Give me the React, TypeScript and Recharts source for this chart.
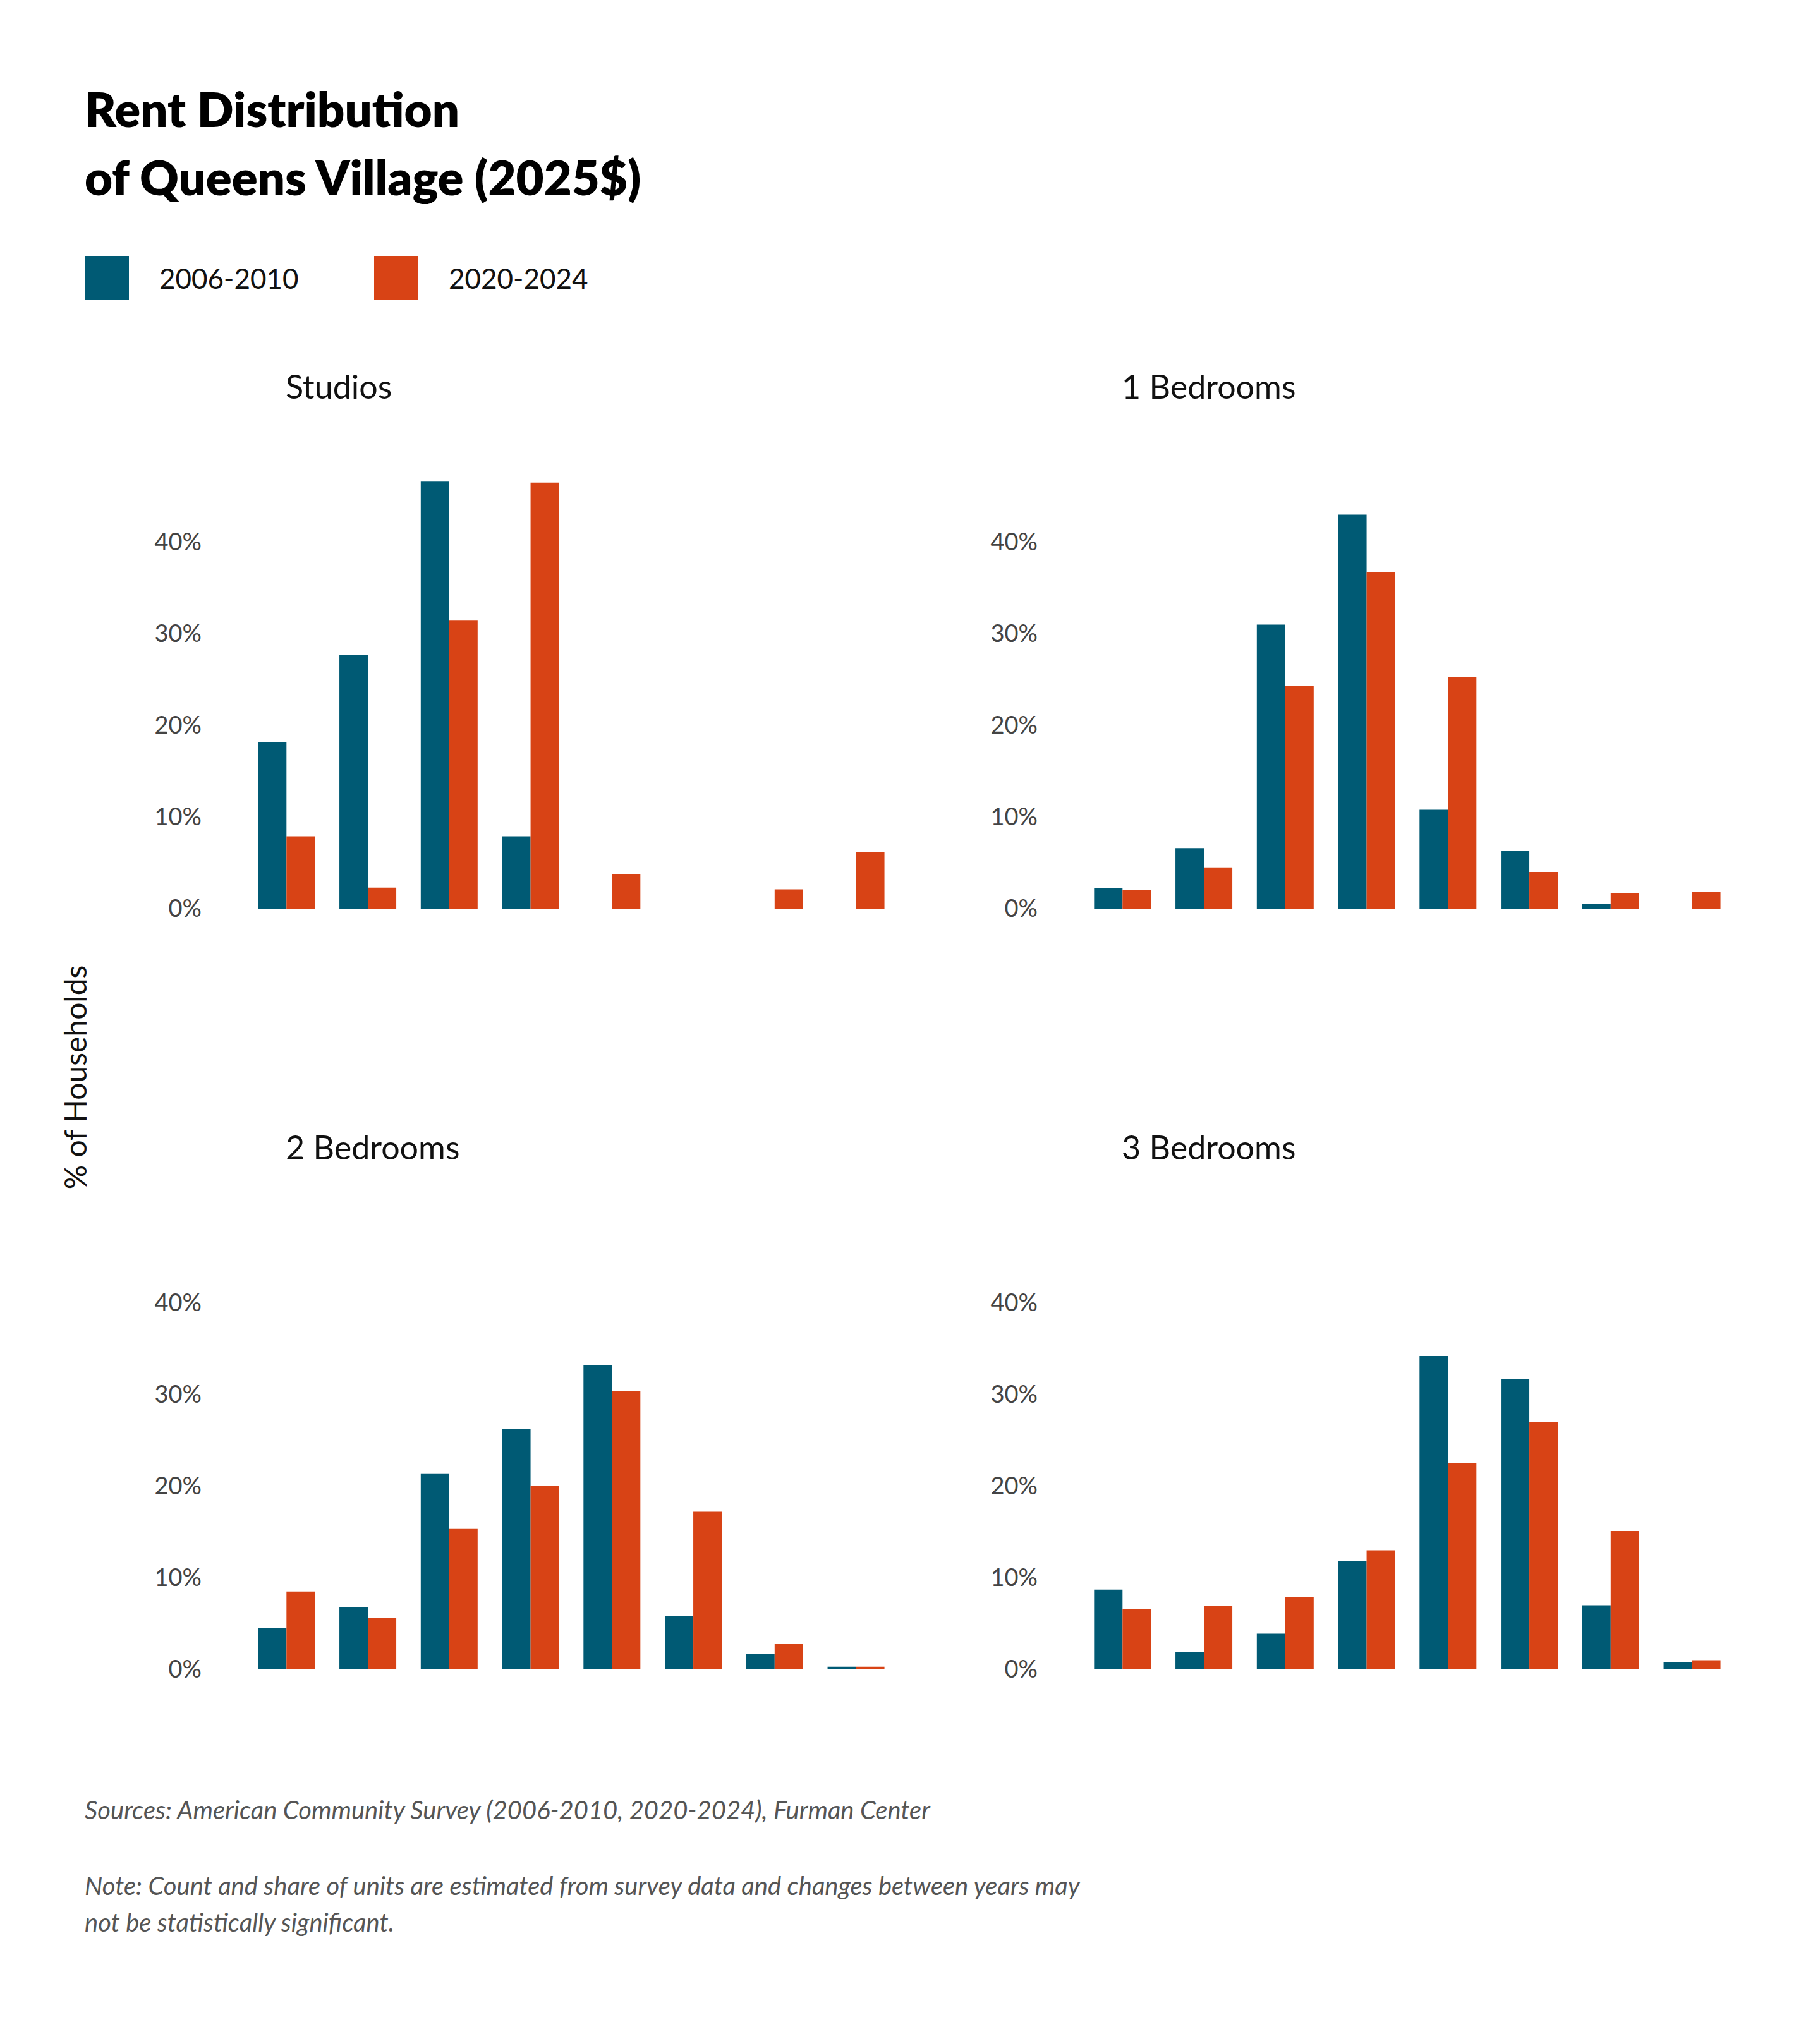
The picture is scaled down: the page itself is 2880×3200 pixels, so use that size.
import { Bar, BarChart, XAxis, YAxis } from "recharts";

const TEAL = "#005a74";
const ORANGE = "#d84315";

const categories = ["<= $500", "$500 - $1k", "$1k - $1.5k", "$1.5k - $2k", "$2k - $2.5k", "$2.5k - $3k", "$3k - $4k", "> $4k"];
const yTicks = [0, 10, 20, 30, 40];

const studios2006 = [18.2, 27.7, 46.6, 7.9, 0, 0, 0, 0];
const studios2020 = [7.9, 2.3, 31.5, 46.5, 3.8, 0, 2.1, 6.2];
const oneBed2006 = [2.2, 6.6, 31.0, 43.0, 10.8, 6.3, 0.5, 0];
const oneBed2020 = [2.0, 4.5, 24.3, 36.7, 25.3, 4.0, 1.7, 1.8];
const twoBed2006 = [4.5, 6.8, 21.4, 26.2, 33.2, 5.8, 1.7, 0.3];
const twoBed2020 = [8.5, 5.6, 15.4, 20.0, 30.4, 17.2, 2.8, 0.3];
const threeBed2006 = [8.7, 1.9, 3.9, 11.8, 34.2, 31.7, 7.0, 0.8];
const threeBed2020 = [6.6, 6.9, 7.9, 13.0, 22.5, 27.0, 15.1, 1.0];

const build = (a: number[], b: number[]) =>
  categories.map((c, i) => ({ name: c, y2006: a[i], y2020: b[i] }));

const FONT = "Lato, 'Open Sans', sans-serif";

const XTick = ({ x, y, payload }: any) => {
  const label: string = payload.value;
  const idx = label.indexOf(" - ");
  const lines = idx >= 0 ? [label.slice(0, idx + 2), label.slice(idx + 3)] : [label];
  const starts = lines.length === 2 ? [107, 152] : [130];
  return (
    <g>
      {lines.map((l, i) => (
        <text key={i} x={x} y={y + starts[i] - 10} textAnchor="middle" dominantBaseline="middle"
          fontSize={31} fill="#444" fontFamily={FONT}>{l}</text>
      ))}
    </g>
  );
};

const Panel = ({ title, data, left, top }: any) => (
  <>
    <div style={{ position: "absolute", left: left + 263, top: top - 120, fontSize: 52, fontFamily: FONT, color: "#111" }}>
      {title}
    </div>
    <div style={{ position: "absolute", left, top }}>
      <BarChart width={1230} height={900} data={data} margin={{ top: 42, right: 0, left: 0, bottom: 162 }}
        barCategoryGap="15%" barGap={0}>
        <XAxis dataKey="name" axisLine={false} tickLine={false} interval={0} tick={<XTick />} height={0} />
        <YAxis domain={[0, 48]} ticks={yTicks} width={200} axisLine={false} tickLine={false} tickMargin={64}
          tickFormatter={(v: number) => `${v}%`} tick={{ fontSize: 38, fill: "#444", fontFamily: FONT }} />
        <Bar dataKey="y2006" fill={TEAL} isAnimationActive={false} />
        <Bar dataKey="y2020" fill={ORANGE} isAnimationActive={false} />
      </BarChart>
    </div>
  </>
);

export default function App() {
  return (
    <div style={{ position: "absolute", left: 0, top: 0, width: 2880, height: 3200, background: "#fff", fontFamily: FONT }}>
      <div style={{ position: "absolute", left: 134, top: 118, fontSize: 76, fontWeight: 800, lineHeight: "108px", color: "#000" }}>
        Rent Distribution<br />of Queens Village (2025$)
      </div>
      <div style={{ position: "absolute", left: 134, top: 405, display: "flex", alignItems: "center", fontSize: 44, color: "#111" }}>
        <span style={{ width: 70, height: 70, background: TEAL, display: "inline-block" }} />
        <span style={{ marginLeft: 48, width: 340 }}>2006-2010</span>
        <span style={{ width: 70, height: 70, background: ORANGE, display: "inline-block" }} />
        <span style={{ marginLeft: 48 }}>2020-2024</span>
      </div>
      <Panel title="Studios" data={build(studios2006, studios2020)} left={189} top={700} />
      <Panel title="1 Bedrooms" data={build(oneBed2006, oneBed2020)} left={1512} top={700} />
      <Panel title="2 Bedrooms" data={build(twoBed2006, twoBed2020)} left={189} top={1904} />
      <Panel title="3 Bedrooms" data={build(threeBed2006, threeBed2020)} left={1512} top={1904} />
      <div style={{ position: "absolute", left: 118, top: 1705, transform: "translate(-50%, -50%) rotate(-90deg)",
        fontSize: 48, color: "#111", whiteSpace: "nowrap" }}>
        % of Households
      </div>
      <div style={{ position: "absolute", left: 134, top: 2840, fontSize: 40, fontStyle: "italic", color: "#555" }}>
        Sources: American Community Survey (2006-2010, 2020-2024), Furman Center
      </div>
      <div style={{ position: "absolute", left: 134, top: 2955, fontSize: 40, fontStyle: "italic", color: "#555", lineHeight: "58px", width: 1850 }}>
        Note: Count and share of units are estimated from survey data and changes between years may<br />
        not be statistically significant.
      </div>
    </div>
  );
}
